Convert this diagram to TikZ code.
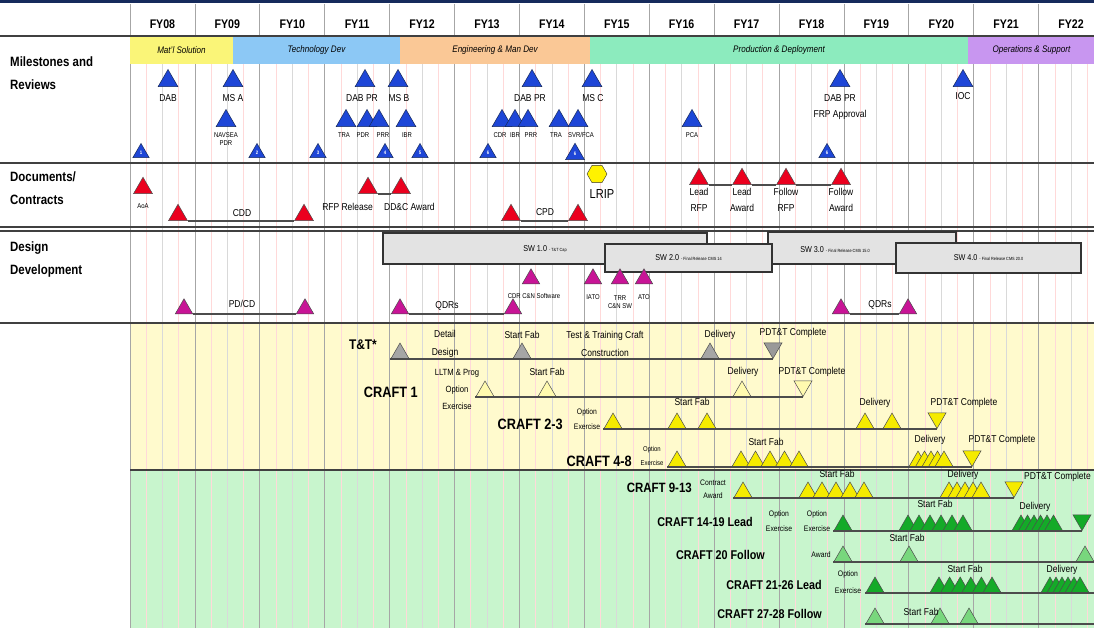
\documentclass[tikz,border=0pt]{standalone}
\usepackage{fontspec}
\setmainfont{Liberation Sans}[FakeStretch=0.85]
\usetikzlibrary{shapes.geometric}
\definecolor{navybar}{RGB}{22,42,92}
\definecolor{phyellow}{RGB}{250,245,120}
\definecolor{phblue}{RGB}{140,200,245}
\definecolor{phorange}{RGB}{250,200,150}
\definecolor{phgreen}{RGB}{140,235,190}
\definecolor{phpurple}{RGB}{200,150,240}
\definecolor{msblue}{RGB}{30,70,215}
\definecolor{docred}{RGB}{235,0,30}
\definecolor{dsgmag}{RGB}{200,20,150}
\definecolor{craftyel}{RGB}{245,235,0}
\definecolor{craftpale}{RGB}{255,250,175}
\definecolor{craftgrn}{RGB}{20,170,40}
\definecolor{craftlgrn}{RGB}{120,215,125}
\definecolor{bandyel}{RGB}{255,250,205}
\definecolor{bandgrn}{RGB}{200,245,205}
\newcommand\swsub[1]{{\fontsize{4.5}{5}\selectfont #1}}

\begin{document}
\begin{tikzpicture}[x=1pt,y=-1pt,
tri/.style={regular polygon,regular polygon sides=3,inner sep=0pt,minimum size=21pt,anchor=side 2,draw=black!70,line width=.5pt},
dn/.style={shape border rotate=180,anchor=corner 1},
ms/.style={tri,fill=msblue,draw=navybar,minimum size=23pt},
msn/.style={ms,minimum size=19pt,text=white,font=\fontsize{5}{5}\selectfont\bfseries},
doc/.style={tri,fill=docred,minimum size=22pt},
dsg/.style={tri,fill=dsgmag,minimum size=20pt},
lab/.style={inner sep=0pt,align=center,font=\fontsize{10}{16}\selectfont},
sml/.style={inner sep=0pt,align=center,font=\fontsize{7}{7.5}\selectfont},
blab/.style={inner sep=0pt,align=center,font=\fontsize{10}{18}\selectfont},
oplab/.style={inner sep=0pt,align=center,font=\fontsize{8}{15}\selectfont},
crft/.style={inner sep=0pt,anchor=east,font=\fontsize{15}{15}\selectfont\bfseries},
crfs/.style={crft,font=\fontsize{12.7}{13}\selectfont\bfseries},
sect/.style={inner sep=0pt,anchor=north west,align=left,font=\fontsize{13.5}{23}\selectfont\bfseries},
fy/.style={inner sep=0pt,font=\fontsize{12.5}{13}\selectfont\bfseries},
phase/.style={minimum height=27pt,inner sep=0pt,font=\fontsize{9.5}{10}\selectfont\itshape},
swbox/.style={draw=black!80,line width=1.4pt,fill=gray!22,inner sep=0pt,font=\fontsize{8.5}{8.5}\selectfont},
tl/.style={line width=1.6pt,black!70},
sep/.style={line width=2pt,black!75}]
\clip (0,0) rectangle (1094,628);
\fill[white] (0,0) rectangle (1094,628);
\fill[bandyel] (130,323) rectangle (1094,470);
\fill[bandgrn] (130,470) rectangle (1094,628);
\fill[navybar] (0,0) rectangle (1094,3);
% grid of years and quarters
\foreach \k in {0,...,14}{
  \foreach \q in {1,3} \draw[red!15,line width=.6pt] ({130+64.9*\k+16.2*\q},36) -- ++(0,592);
  \draw[gray!30,line width=.6pt] ({130+64.9*\k+32.45},36) -- ++(0,592);
  \draw[gray!70,line width=.7pt] ({130+64.9*\k},4) -- ++(0,624);
  \pgfmathtruncatemacro\yr{8+\k}
  \node[fy] (fy\k) at ({130+64.9*\k+32.45},24) {FY\ifnum\yr<10 0\fi\yr};
}
% phases
\node[phase,fill=phyellow,minimum width=103pt] (matl) at (181.5,50.5) {Mat'l Solution};
\node[phase,fill=phblue,minimum width=167pt] (tech) at (316.5,50.5) {Technology Dev};
\node[phase,fill=phorange,minimum width=190pt] (emd) at (495,50.5) {Engineering \& Man Dev};
\node[phase,fill=phgreen,minimum width=378pt] (pd) at (779,50.5) {Production \& Deployment};
\node[phase,fill=phpurple,minimum width=127pt] (os) at (1031.5,50.5) {Operations \& Support};
% section rules
\draw[sep,line width=2.5pt] (0,36) -- (1094,36);
\draw[sep,line width=1.5pt] (0,163) -- (1094,163);
\draw[sep,line width=1.2pt] (0,227) -- (1094,227);
\draw[sep,line width=1.2pt] (0,231) -- (1094,231);
\draw[sep] (0,323) -- (1094,323);
\draw[sep,line width=2.5pt] (130,470) -- (1094,470);
\node[sect] (msrev) at (10,57) {Milestones and\\Reviews};
\node[sect] (docs) at (10,172) {Documents/\\Contracts};
\node[sect] (dsgn) at (10,242) {Design\\Development};

% milestones and reviews
\node[ms] (dab1) at (168,87) {};
\node[ms] (msa) at (233,87) {};
\node[ms] (dabpr1) at (365,87) {};
\node[ms] (msb) at (398,87) {};
\node[ms] (dabpr2) at (532,87) {};
\node[ms] (msc) at (592,87) {};
\node[ms] (dabpr3) at (840,87) {};
\node[ms] (ioc) at (963,87) {};
\node[lab] (dab1l) at (168,98) {DAB};
\node[lab] (msal) at (233,98) {MS A};
\node[lab] (dabpr1l) at (362,98) {DAB PR};
\node[lab] (msbl) at (399,98) {MS B};
\node[lab] (dabpr2l) at (530,98) {DAB PR};
\node[lab] (mscl) at (593,98) {MS C};
\node[lab] (dabpr3l) at (840,107) {DAB PR\\FRP Approval};
\node[lab] (iocl) at (963,96) {IOC};
\node[ms] (navsea) at (226,127) {};
\node[ms] (tra1) at (346,127) {};
\node[ms] (pdr) at (367,127) {};
\node[ms] (prr1) at (379,127) {};
\node[ms] (ibr1) at (406,127) {};
\node[ms] (cdr) at (502,127) {};
\node[ms] (ibr2) at (515,127) {};
\node[ms] (prr2) at (528,127) {};
\node[ms] (tra2) at (559,127) {};
\node[ms] (svr) at (578,127) {};
\node[ms] (pca) at (692,127) {};
\node[sml] (navseal) at (226,139) {NAVSEA\\PDR};
\node[sml] (tra1l) at (344,135) {TRA};
\node[sml] (pdrl) at (363,135) {PDR};
\node[sml] (prr1l) at (383,135) {PRR};
\node[sml] (ibr1l) at (407,135) {IBR};
\node[sml] (cdrl) at (500,135) {CDR};
\node[sml] (ibr2l) at (515,135) {IBR};
\node[sml] (prr2l) at (531,135) {PRR};
\node[sml] (tra2l) at (556,135) {TRA};
\node[sml] (svrl) at (581,135) {SVR/FCA};
\node[sml] (pcal) at (692,135) {PCA};
\node[msn] (g1) at (141,158) {1};
\node[msn] (g2) at (257,158) {2};
\node[msn] (g3) at (318,158) {3};
\node[msn] (g4) at (385,158) {4};
\node[msn] (g5) at (420,158) {5};
\node[msn] (g6) at (488,158) {6};
\node[msn,minimum size=22pt] (g7) at (575,160) {6};
\node[msn] (g8) at (827,158) {6};

% documents / contracts
\node[doc] (aoa) at (143,194) {};
\node[sml] (aoal) at (143,206) {AoA};
\node[doc] (cdd1) at (178,221) {};
\node[doc] (cdd2) at (304,221) {};
\node[lab] (cddl) at (242,213) {CDD};
\node[doc] (rfp) at (368,194) {};
\node[doc] (ddc) at (401,194) {};
\node[lab,anchor=east] (rfpl) at (373,207) {RFP Release};
\node[lab,anchor=west] (ddcl) at (384,207) {DD\&C Award};
\node[doc] (cpd1) at (511,221) {};
\node[doc] (cpd2) at (578,221) {};
\node[lab] (cpdl) at (545,212) {CPD};
\node[regular polygon,regular polygon sides=6,draw=black!80,fill=yellow,minimum size=20pt,inner sep=0pt] (lrip) at (597,174) {};
\node[inner sep=0pt,font=\fontsize{13}{13}\selectfont] (lripl) at (602,194) {LRIP};
\node[doc] (leadrfp) at (699,185) {};
\node[doc] (leadaw) at (742,185) {};
\node[doc] (follrfp) at (786,185) {};
\node[doc] (follaw) at (841,185) {};
\node[lab] (leadrfpl) at (699,200) {Lead\\RFP};
\node[lab] (leadawl) at (742,200) {Lead\\Award};
\node[lab] (follrfpl) at (786,200) {Follow\\RFP};
\node[lab] (follawl) at (841,200) {Follow\\Award};
\draw[tl] (cdd1.corner 3) -- (cdd2.corner 2);
\draw[tl] (rfp.corner 3) -- (ddc.corner 2);
\draw[tl] (cpd1.corner 3) -- (cpd2.corner 2);
\draw[tl] (leadrfp.corner 3) -- (leadaw.corner 2);
\draw[tl] (leadaw.corner 3) -- (follrfp.corner 2);
\draw[tl] (follrfp.corner 3) -- (follaw.corner 2);

% design development
\node[swbox,minimum width=324pt,minimum height=31pt] (sw1) at (545,248.5) {SW 1.0 \swsub{- T\&T Cap}};
\node[swbox,minimum width=188pt,minimum height=32pt] (sw3) at (862,248) {};
\node[inner sep=0pt,font=\fontsize{8.5}{8.5}\selectfont] (sw3l) at (835,250) {SW 3.0 \swsub{- Final Release CMS 15.0}};
\node[swbox,minimum width=167pt,minimum height=28pt] (sw2) at (688.5,258) {SW 2.0 \swsub{- Final Release CMS 14}};
\node[swbox,minimum width=185pt,minimum height=30pt] (sw4) at (988.5,258) {SW 4.0 \swsub{- Final Release CMS 20.0}};
\node[dsg] (pdcd1) at (184,314) {};
\node[dsg] (pdcd2) at (305,314) {};
\node[lab] (pdcdl) at (242,304) {PD/CD};
\node[dsg] (qdr1) at (400,314) {};
\node[dsg] (qdr2) at (513,314) {};
\node[lab] (qdr1l) at (447,306) {QDRs};
\node[dsg] (qdr3) at (841,314) {};
\node[dsg] (qdr4) at (908,314) {};
\node[lab] (qdr3l) at (880,305) {QDRs};
\node[dsg] (cdrsw) at (531,284) {};
\node[dsg] (iato) at (593,284) {};
\node[dsg] (trr) at (620,284) {};
\node[dsg] (ato) at (644,284) {};
\node[sml] (cdrswl) at (534,296) {CDR C\&N Software};
\node[sml] (iatol) at (593,297) {IATO};
\node[sml] (trrl) at (620,302) {TRR\\C\&N SW};
\node[sml] (atol) at (644,297) {ATO};
\draw[tl] (pdcd1.corner 3) -- (pdcd2.corner 2);
\draw[tl] (qdr1.corner 3) -- (qdr2.corner 2);
\draw[tl] (qdr3.corner 3) -- (qdr4.corner 2);

% T&T
\node[crft,font=\fontsize{14}{14}\selectfont\bfseries] (ttl) at (377,345) {T\&T*};
\node[tri,fill=gray!70] (tt1) at (400,359) {};
\node[tri,fill=gray!70] (tt2) at (522,359) {};
\node[tri,fill=gray!70] (tt3) at (710,359) {};
\node[tri,dn,fill=gray!80] (tt4) at (773,359) {};
\draw[tl] (tt1.corner 2) -- (tt4.corner 1);
\node[blab] (ttdd) at (445,344) {Detail\\Design};
\node[blab] (ttsf) at (522,335) {Start Fab};
\node[blab] (tttc) at (605,344) {Test \& Training Craft\\Construction};
\node[blab] (ttdv) at (720,335) {Delivery};
\node[blab] (ttpc) at (793,333) {PDT\&T Complete};

% CRAFT 1
\node[crft] (c1l) at (418,392) {CRAFT 1};
\node[tri,fill=craftpale] (c1a) at (485,397) {};
\node[tri,fill=craftpale] (c1b) at (547,397) {};
\node[tri,fill=craftpale] (c1c) at (742,397) {};
\node[tri,dn,fill=craftpale] (c1d) at (803,397) {};
\draw[tl] (c1a.corner 2) -- (c1d.corner 1);
\node[oplab,font=\fontsize{9}{17}\selectfont] (c1oe) at (457,389) {LLTM \& Prog\\Option\\Exercise};
\node[blab] (c1sf) at (547,372) {Start Fab};
\node[blab] (c1dv) at (743,372) {Delivery};
\node[blab] (c1pc) at (812,372) {PDT\&T Complete};

% CRAFT 2-3
\node[crft] (c23l) at (563,424) {CRAFT 2-3};
\node[tri,fill=craftyel] (c23a) at (613,429) {};
\node[tri,fill=craftyel] (c23b) at (677,429) {};
\node[tri,fill=craftyel] (c23c) at (707,429) {};
\node[tri,fill=craftyel] (c23d) at (865,429) {};
\node[tri,fill=craftyel] (c23e) at (892,429) {};
\node[tri,dn,fill=craftyel] (c23f) at (937,429) {};
\draw[tl] (c23a.corner 2) -- (c23f.corner 1);
\node[oplab] (c23oe) at (587,419) {Option\\Exercise};
\node[blab] (c23sf) at (692,402) {Start Fab};
\node[blab] (c23dv) at (875,403) {Delivery};
\node[blab] (c23pc) at (964,403) {PDT\&T Complete};

% CRAFT 4-8
\node[crft] (c48l) at (632,461) {CRAFT 4-8};
\node[tri,fill=craftyel] (c48a) at (677,467) {};
\foreach \i in {0,...,4} \node[tri,fill=craftyel] (c48s\i) at ({741+14.5*\i},467) {};
\foreach \i in {0,...,4} \node[tri,fill=craftyel] (c48v\i) at ({918+6.5*\i},467) {};
\node[tri,dn,fill=craftyel] (c48d) at (972,467) {};
\draw[tl] (c48a.corner 2) -- (c48d.corner 1);
\node[oplab,font=\fontsize{7}{14}\selectfont] (c48oe) at (652,456) {Option\\Exercise};
\node[blab] (c48sf) at (766,442) {Start Fab};
\node[blab] (c48dv) at (930,440) {Delivery};
\node[blab] (c48pc) at (1002,440) {PDT\&T Complete};

% CRAFT 9-13
\node[crft,font=\fontsize{13.5}{14}\selectfont\bfseries] (c913l) at (692,488) {CRAFT 9-13};
\node[tri,fill=craftyel] (c913a) at (743,498) {};
\foreach \i in {0,...,4} \node[tri,fill=craftyel] (c913s\i) at ({808+14*\i},498) {};
\foreach \i in {0,...,4} \node[tri,fill=craftyel] (c913v\i) at ({949+8*\i},498) {};
\node[tri,dn,fill=craftyel] (c913d) at (1014,498) {};
\draw[tl] (c913a.corner 2) -- (c913d.corner 1);
\node[oplab,font=\fontsize{8}{13}\selectfont] (c913ca) at (713,489) {Contract\\Award};
\node[blab] (c913sf) at (837,474) {Start Fab};
\node[blab] (c913dv) at (963,475) {Delivery};
\node[blab,anchor=west] (c913pc) at (1024,477) {PDT\&T Complete};

% CRAFT 14-19 Lead
\node[crfs] (c1419l) at (753,522) {CRAFT 14-19 Lead};
\node[tri,fill=craftgrn] (c1419a) at (843,531) {};
\foreach \i in {0,...,5} \node[tri,fill=craftgrn] (c1419s\i) at ({908+11*\i},531) {};
\foreach \i in {0,...,5} \node[tri,fill=craftgrn] (c1419v\i) at ({1021+6.5*\i},531) {};
\node[tri,dn,fill=craftgrn] (c1419d) at (1082,531) {};
\draw[tl] (c1419a.corner 2) -- (c1419d.corner 1);
\node[oplab] (c1419o1) at (779,521) {Option\\Exercise};
\node[oplab] (c1419o2) at (817,521) {Option\\Exercise};
\node[blab] (c1419sf) at (935,504) {Start Fab};
\node[blab] (c1419dv) at (1035,507) {Delivery};

% CRAFT 20 Follow
\node[crfs] (c20l) at (765,555) {CRAFT 20 Follow};
\node[tri,fill=craftlgrn] (c20a) at (843,562) {};
\node[tri,fill=craftlgrn] (c20b) at (909,562) {};
\node[tri,fill=craftlgrn] (c20c) at (1085,562) {};
\coordinate (c20end) at (1094,562);
\draw[tl] (c20a.corner 2) -- (c20end);
\node[oplab] (c20aw) at (821,555) {Award};
\node[blab] (c20sf) at (907,538) {Start Fab};

% CRAFT 21-26 Lead
\node[crfs] (c2126l) at (822,585) {CRAFT 21-26 Lead};
\node[tri,fill=craftgrn] (c2126a) at (875,593) {};
\foreach \i in {0,...,5} \node[tri,fill=craftgrn] (c2126s\i) at ({939+10.6*\i},593) {};
\foreach \i in {0,...,5} \node[tri,fill=craftgrn] (c2126v\i) at ({1050+6*\i},593) {};
\coordinate (c2126end) at (1094,593);
\draw[tl] (c2126a.corner 2) -- (c2126end);
\node[oplab,font=\fontsize{8}{17}\selectfont] (c2126oe) at (848,582) {Option\\Exercise};
\node[blab] (c2126sf) at (965,569) {Start Fab};
\node[blab] (c2126dv) at (1062,570) {Delivery};

% CRAFT 27-28 Follow
\node[crfs] (c2728l) at (822,614) {CRAFT 27-28 Follow};
\node[tri,fill=craftlgrn] (c2728a) at (875,624) {};
\node[tri,fill=craftlgrn] (c2728b) at (940,624) {};
\node[tri,fill=craftlgrn] (c2728c) at (969,624) {};
\coordinate (c2728end) at (1094,624);
\draw[tl] (c2728a.corner 2) -- (c2728end);
\node[blab] (c2728sf) at (921,612) {Start Fab};
\end{tikzpicture}
\end{document}
